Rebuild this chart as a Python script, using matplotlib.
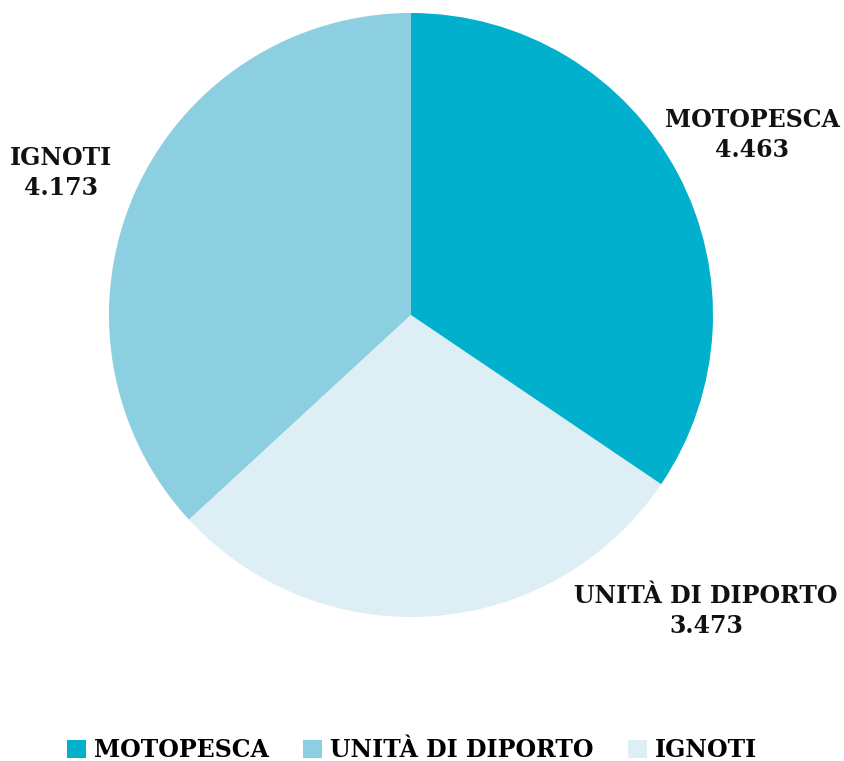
import matplotlib.pyplot as plt
from matplotlib.patches import Patch

# categories and counts
categories = ["MOTOPESCA", "UNITÀ DI DIPORTO", "IGNOTI"]
values = [4.463, 3.473, 4.173]
value_labels = ["4.463", "3.473", "4.173"]

# palette
slice_colors = ["#8ccfe0", "#ddeef5", "#00b0cc"]
legend_colors = ["#00b0cc", "#8ccfe0", "#ddeef5"]

plt.rcParams["font.family"] = ["DejaVu Serif"]
plt.rcParams["font.weight"] = "bold"

W, H = 845, 761
fig = plt.figure(figsize=(W / 100, H / 100), dpi=100)

# pie centered at (411, 315) px, radius 302 px
cx, cy, r = 411, 315, 302
ax = fig.add_axes([(cx - r) / W, (H - cy - r) / H, 2 * r / W, 2 * r / H])
ax.pie(
    values,
    colors=slice_colors,
    startangle=90,
    counterclock=True,
    radius=1.0,
    wedgeprops=dict(linewidth=0),
)
ax.set_xlim(-1, 1)
ax.set_ylim(-1, 1)
ax.axis("off")

# slice labels (pixel positions of the text centres)
label_pos = {
    "MOTOPESCA": (752, 135),
    "UNITÀ DI DIPORTO": (706, 611),
    "IGNOTI": (61, 173),
}
fs = 17
for name, val in zip(categories, value_labels):
    x, y = label_pos[name]
    fig.text(x / W, 1 - y / H, f"{name}\n{val}", ha="center", va="center",
             fontsize=fs, fontweight="bold", linespacing=1.32, color="#111111")

handles = [Patch(facecolor=c, edgecolor="none") for c in legend_colors]
fig.legend(handles, categories, loc="center", bbox_to_anchor=(412 / W, 1 - 750 / H),
           ncol=3, frameon=False, handlelength=0.8, handleheight=0.8,
           handletextpad=0.35, columnspacing=1.45, borderpad=0,
           prop=dict(weight="bold", size=fs))

fig.savefig("out.png", dpi=100, facecolor="white")
